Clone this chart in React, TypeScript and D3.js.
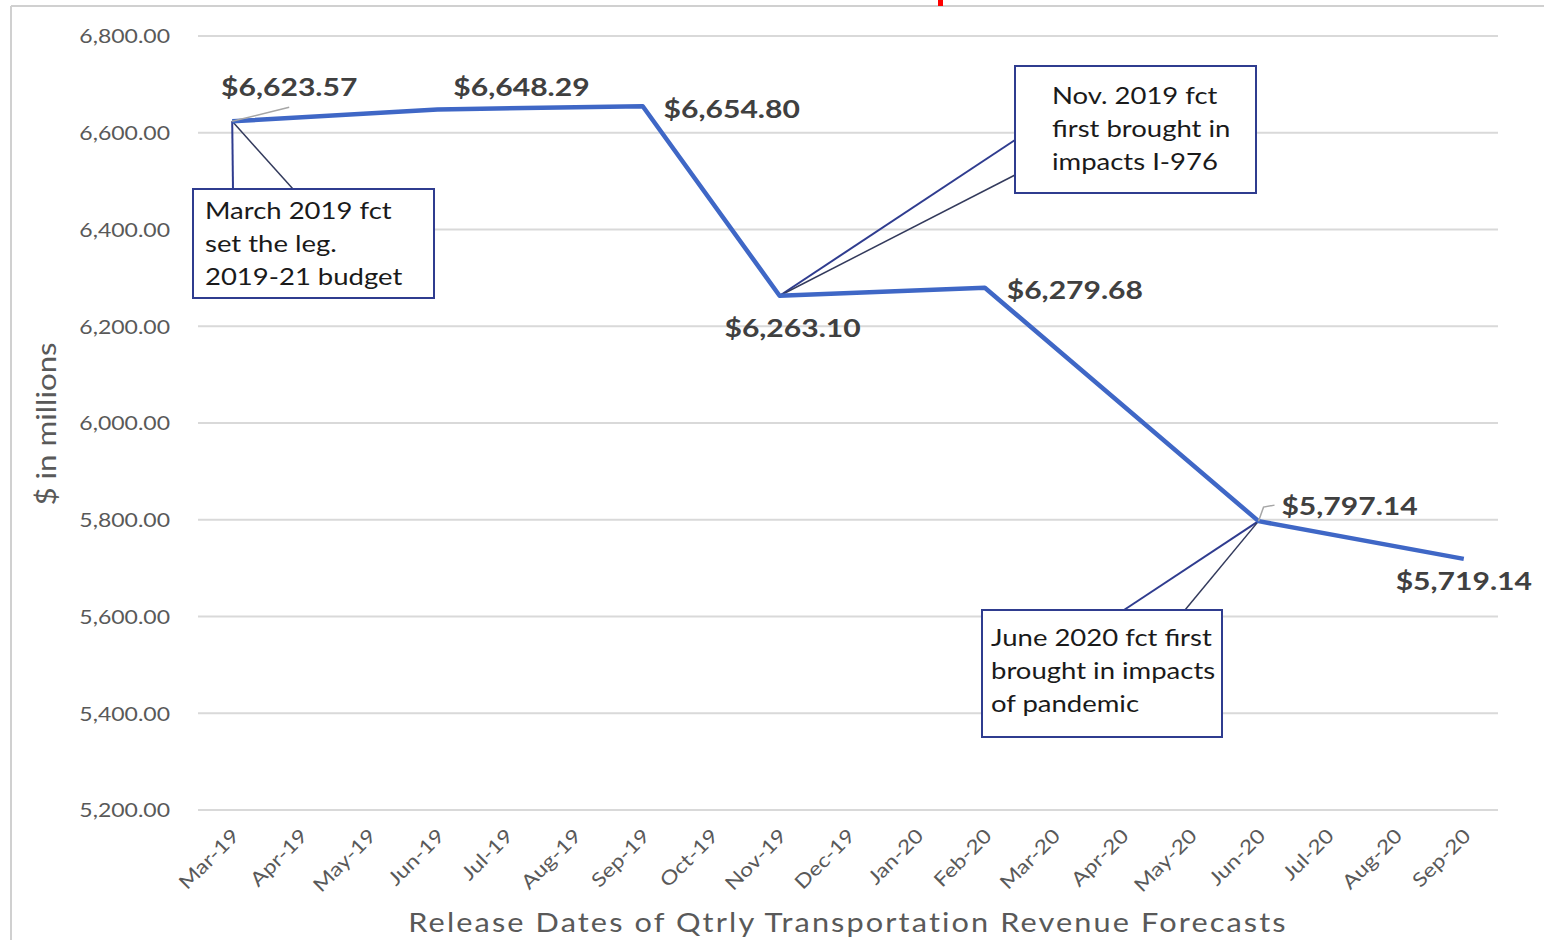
import React from "react";
import * as d3 from "d3";

const months = ["Mar-19","Apr-19","May-19","Jun-19","Jul-19","Aug-19","Sep-19","Oct-19","Nov-19","Dec-19","Jan-20","Feb-20","Mar-20","Apr-20","May-20","Jun-20","Jul-20","Aug-20","Sep-20"];
const forecastDates = ["Mar-19","Jun-19","Sep-19","Nov-19","Feb-20","Jun-20","Sep-20"];
const forecastValues = [6623.57, 6648.29, 6654.80, 6263.10, 6279.68, 5797.14, 5719.14];
const yTicks = [5200, 5400, 5600, 5800, 6000, 6200, 6400, 6600, 6800];
// label offsets (px) from each point
const labelOffsets: [number, number][] = [[57, -35], [84, -23], [89, 2], [13, 31], [90, 1], [91, -16], [0, 21]];

const callouts = [
  { lines: ["March 2019 fct", "set the leg.", "2019-21 budget"], box: [193, 189, 241, 109], target: 0, bases: [[233, 189], [293, 189]], textX: 205, textY: 21 },
  { lines: ["Nov. 2019 fct", "first brought in", "impacts I-976"], box: [1015, 66, 241, 127], target: 3, bases: [[1015, 140], [1015, 175]], textX: 1052, textY: 29 },
  { lines: ["June 2020 fct first", "brought in impacts", "of pandemic"], box: [982, 610, 240, 127], target: 5, bases: [[1124, 610], [1185, 610]], textX: 991, textY: 27 },
];

const FONT = "Lato, 'Open Sans', sans-serif";
const SX = 1.18;

function T(props: { x: number; y: number; rotate?: number; anchor?: string; size: number; weight?: number; fill: string; children: any; ls?: number }) {
  const { x, y, rotate = 0, anchor = "start", size, weight = 400, fill, children, ls } = props;
  return (
    <text transform={`translate(${x},${y}) rotate(${rotate}) scale(${SX},1)`} textAnchor={anchor}
      dominantBaseline="central" fontFamily={FONT} fontSize={size} fontWeight={weight} fill={fill}
      letterSpacing={ls}>{children}</text>
  );
}

export default function App() {
  const W = 1544, H = 940;
  const x = d3.scaleBand<string>().domain(months).range([198, 1498]);
  const y = d3.scaleLinear().domain([5200, 6800]).range([810, 36]);
  const cx = (m: string) => (x(m) as number) + x.bandwidth() / 2;
  const pts = forecastDates.map((d, i) => [cx(d), y(forecastValues[i])] as [number, number]);
  const line = d3.line<[number, number]>().x(d => d[0]).y(d => d[1]);
  const fmt = d3.format(",.2f");
  const navy = "#2F3C8F";

  return (
    <div style={{ position: "absolute", left: 0, top: 0 }}>
      <svg width={W} height={H} style={{ display: "block", background: "#fff" }}>
        <rect x={0} y={0} width={W} height={H} fill="#fff" />
        {/* chart border */}
        <line x1={11} y1={6} x2={W} y2={6} stroke="#d0d0d0" strokeWidth={2} />
        <line x1={11} y1={6} x2={11} y2={H} stroke="#d0d0d0" strokeWidth={2} />
        <rect x={938} y={0} width={5} height={6} fill="#ff0000" />

        {/* gridlines */}
        {yTicks.map(t => (
          <line key={t} x1={198} x2={1498} y1={y(t)} y2={y(t)} stroke="#d9d9d9" strokeWidth={2} />
        ))}
        {/* y tick labels */}
        {yTicks.map(t => (
          <T key={"l" + t} x={170} y={y(t)} anchor="end" size={19.5} fill="#595959">{fmt(t)}</T>
        ))}
        {/* x tick labels */}
        {months.map(m => (
          <T key={m} x={cx(m) + 3} y={832} rotate={-45} anchor="end" size={19.5} fill="#595959">{m}</T>
        ))}
        {/* axis titles */}
        <T x={45} y={424} rotate={-90} anchor="middle" size={26.5} fill="#595959">$ in millions</T>
        <T x={848} y={922} anchor="middle" size={26} fill="#595959" ls={1.8}>Release Dates of Qtrly Transportation Revenue Forecasts</T>

        {/* callouts */}
        {callouts.map((c, i) => {
          const [bx, by, bw, bh] = c.box;
          const tip = pts[c.target];
          return (
            <g key={"c" + i}>
              <line x1={c.bases[0][0]} y1={c.bases[0][1]} x2={tip[0]} y2={tip[1]} stroke={navy} strokeWidth={2} />
              <line x1={c.bases[1][0]} y1={c.bases[1][1]} x2={tip[0]} y2={tip[1]} stroke="#333a5c" strokeWidth={1.5} />
              <rect x={bx} y={by} width={bw} height={bh} fill="#fff" stroke={navy} strokeWidth={2} />
              {c.lines.map((l, j) => (
                <T key={j} x={c.textX} y={by + c.textY + j * 33} size={23.3} fill="#1a1a1a">{l}</T>
              ))}
            </g>
          );
        })}

        {/* data line */}
        <path d={line(pts) as string} fill="none" stroke="#3F67C6" strokeWidth={4.5} strokeLinejoin="round" />

        {/* leader lines */}
        <line x1={pts[0][0]} y1={pts[0][1]} x2={pts[0][0] + 57} y2={pts[0][1] - 14} stroke="#a6a6a6" strokeWidth={1.5} />
        <polyline points={`${pts[5][0]},${pts[5][1]} ${pts[5][0] + 5},${pts[5][1] - 14} ${pts[5][0] + 16},${pts[5][1] - 16}`}
          fill="none" stroke="#a6a6a6" strokeWidth={1.5} />

        {/* data labels */}
        {pts.map((p, i) => (
          <T key={"d" + i} x={p[0] + labelOffsets[i][0]} y={p[1] + labelOffsets[i][1]} anchor="middle"
            size={25.5} weight={700} fill="#404040">
            ${fmt(forecastValues[i])}
          </T>
        ))}
      </svg>
    </div>
  );
}
